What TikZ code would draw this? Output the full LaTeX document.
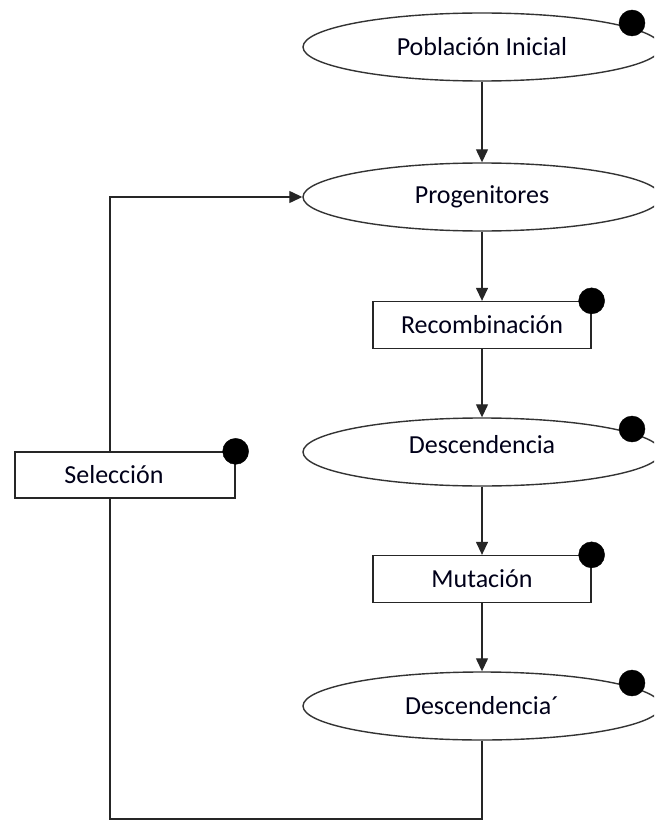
\documentclass[tikz,border=0pt]{standalone}
\usepackage{fontspec}
\setmainfont{Carlito}
\usetikzlibrary{arrows.meta,shapes.geometric,calc}
\begin{document}
\begin{tikzpicture}[x=1pt,y=-1pt,
  every node/.style={font=\fontsize{26}{30}\selectfont, text=black!90!blue},
  ell/.style={ellipse, draw=black!80, line width=1.4pt, fill=white, minimum width=358pt, minimum height=68pt, inner sep=0pt},
  box/.style={rectangle, draw=black!85, line width=1.3pt, fill=white, minimum width=218pt, minimum height=47pt, inner sep=0pt},
  dot/.style={circle, fill=black, draw=black, minimum size=26pt, inner sep=0pt},
  conn/.style={draw=black!85, line width=1.3pt},
  arr/.style={conn, -{Triangle[width=12pt,length=13pt]}}]
\useasboundingbox (0,0) rectangle (654,821);
\clip (0,0) rectangle (654,821);
\node[ell] (e1) at (482,47) {Población Inicial};
\node[ell] (e2) at (482,197) {Progenitores};
\node[box] (r1) at (482,325) {Recombinación};
\node[ell] (e3) at (482,452) {Descendencia\rule[-16pt]{0pt}{16pt}};
\node[box] (r2) at (482,579) {Mutación};
\node[ell] (e4) at (482,706) {Descendencia´};
\node[box, minimum width=220pt, minimum height=46pt] (sel) at (125,475) {\hspace*{-22pt}Selección};
\node[dot] (d1) at (632,23) {};
\node[dot] (d2) at (r1.north east) {};
\node[dot] (d3) at (632,429) {};
\node[dot] (d4) at (r2.north east) {};
\node[dot] (d5) at (632,683) {};
\node[dot] (d6) at (sel.north east) {};
\coordinate (lb) at (110,819);
\draw[arr] (e1.south) -- (e2.north);
\draw[arr] (e2.south) -- (r1.north);
\draw[arr] (r1.south) -- (e3.north);
\draw[arr] (e3.south) -- (r2.north);
\draw[arr] (r2.south) -- (e4.north);
\draw[conn] (e4.south) |- (lb) -- (lb |- sel.south);
\draw[arr] (lb |- sel.north) |- (e2.west);
\end{tikzpicture}
\end{document}
